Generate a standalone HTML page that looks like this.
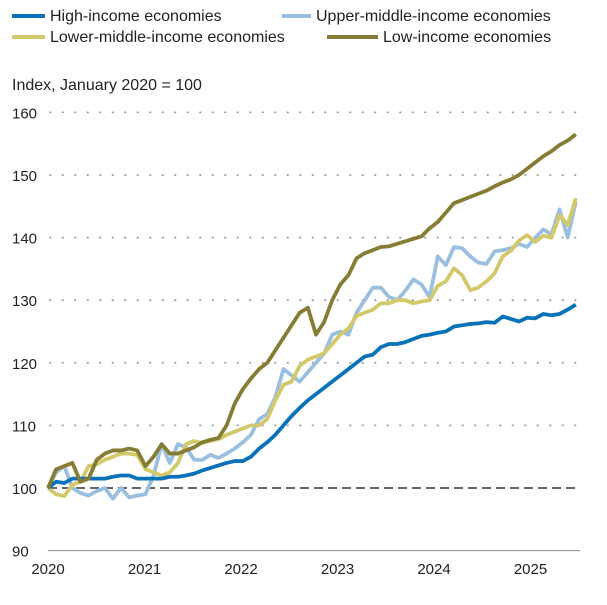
<!DOCTYPE html>
<html><head><meta charset="utf-8"><style>
body{margin:0;background:#fff;font-family:"Liberation Sans",sans-serif;}
svg text{font-family:"Liberation Sans",sans-serif;fill:#222;}
</style></head><body>
<svg id="chart" width="607" height="600" viewBox="0 0 607 600">
<g>
<g><line x1="12" y1="16" x2="45" y2="16" stroke="#0a72b8" stroke-width="4"/><text x="50" y="21" font-size="16">High-income economies</text></g>
<g><line x1="282" y1="16" x2="311" y2="16" stroke="#9bbfe0" stroke-width="4"/><text x="316" y="21" font-size="16">Upper-middle-income economies</text></g>
<g><line x1="12" y1="37" x2="45" y2="37" stroke="#d4c96a" stroke-width="4"/><text x="50" y="42" font-size="16">Lower-middle-income economies</text></g>
<g><line x1="327" y1="37" x2="378" y2="37" stroke="#857d34" stroke-width="4"/><text x="383" y="42" font-size="16">Low-income economies</text></g>
</g>
<text x="12" y="90" font-size="16">Index, January 2020 = 100</text>
<g id="grid"></g><g id="series"></g>
</svg>
<script>
const yTicks=[90,100,110,120,130,140,150,160];
const xLabels=["2020","2021","2022","2023","2024","2025"];
const high=[100,101,100.8,101.5,101.5,101.5,101.5,101.5,101.8,102,102,101.5,
101.5,101.5,101.5,101.8,101.8,102,102.3,102.8,103.2,103.6,104,104.3,
104.3,105,106.3,107.3,108.5,110,111.5,112.8,114,115,116,117,
118,119,120,121,121.3,122.5,123,123,123.3,123.8,124.3,124.5,
124.8,125,125.8,126,126.2,126.3,126.5,126.4,127.4,127,126.6,127.2,
127.1,127.8,127.6,127.8,128.5,129.3];
const upper=[100,102.5,103.5,100,99.2,98.8,99.5,100,98.3,100,98.5,98.8,
99,102,107,104,107,106.5,104.5,104.5,105.3,104.8,105.5,106.3,
107.3,108.5,111,111.8,114.5,119,118,117,118.5,120,121.5,124.5,
125,124.5,128,130,132,132,130.5,130,131.5,133.3,132.5,130.5,
137,135.6,138.5,138.3,137,136,135.8,137.8,138,138.3,139,138.5,
140,141.3,140.5,144.5,140,145.7];
const lower=[100,99,98.7,100.5,101,103.5,103.8,104.5,105,105.5,105.5,105.3,
103,102.5,102,102.5,104,107,107.5,107.2,107.5,107.8,108.5,109,
109.5,110,110,111,114,116.5,117,119.5,120.5,121,121.5,123,
124.5,125.5,127.5,128,128.5,129.5,129.5,130,130,129.5,129.8,130,
132.3,133,135.1,134,131.6,132,133,134.3,137,137.9,139.5,140.4,
139.3,140.3,140,143.6,142,146.3];
const low=[100,103,103.5,104,101,101.5,104.5,105.5,106,106,106.3,106,
103.5,105,107,105.5,105.5,106,106.5,107.3,107.7,108,110,113.5,
115.8,117.5,119,120,122,124,126,128,128.8,124.5,126.5,130,
132.5,134,136.7,137.5,138,138.5,138.6,139,139.4,139.8,140.2,141.5,
142.5,144,145.5,146,146.5,147,147.5,148.2,148.8,149.3,150,151,
152,153,153.8,154.8,155.5,156.5];
const NS="http://www.w3.org/2000/svg";
const X0=48,PX_YEAR=96.5,PX_MONTH=8.12;
const xs=i=>X0+i*PX_MONTH;
const ys=v=>488-(v-100)*6.26;
const grid=document.getElementById('grid'),ser=document.getElementById('series');
function mk(tag,attrs,parent){const e=document.createElementNS(NS,tag);for(const k in attrs)e.setAttribute(k,attrs[k]);parent.appendChild(e);return e;}
yTicks.forEach(t=>{
 if(t>100){const l=mk('line',{x1:X0+2,x2:580,y1:ys(t),y2:ys(t),stroke:'#999','stroke-width':1.8,'stroke-dasharray':'0.5 12','stroke-linecap':'round'},grid);
 
 }
 const tx=mk('text',{x:12,y:ys(t)+6,'font-size':15},grid);tx.textContent=t;
 
 
});
const ax=mk('line',{x1:X0,x2:580,y1:ys(90),y2:ys(90),stroke:'#888','stroke-width':1},grid);


xLabels.forEach((s,i)=>{const tx=mk('text',{x:X0+i*PX_YEAR,y:574,'font-size':15,'text-anchor':'middle'},grid);tx.textContent=s;
 
 });
const base=mk('line',{x1:X0,x2:580,y1:ys(100),y2:ys(100),stroke:'#666','stroke-width':2,'stroke-dasharray':'9 5'},grid);


[[upper,'#9bbfe0','upper-middle'],[lower,'#d4c96a','lower-middle'],[high,'#0a72b8','high'],[low,'#857d34','low']].forEach(([d,c,n])=>{
 const p=mk('polyline',{points:d.map((v,i)=>xs(i)+','+ys(v)).join(' '),fill:'none',stroke:c,'stroke-width':3.8,'stroke-linejoin':'round'},ser);
 
 
});
</script>
</body></html>
